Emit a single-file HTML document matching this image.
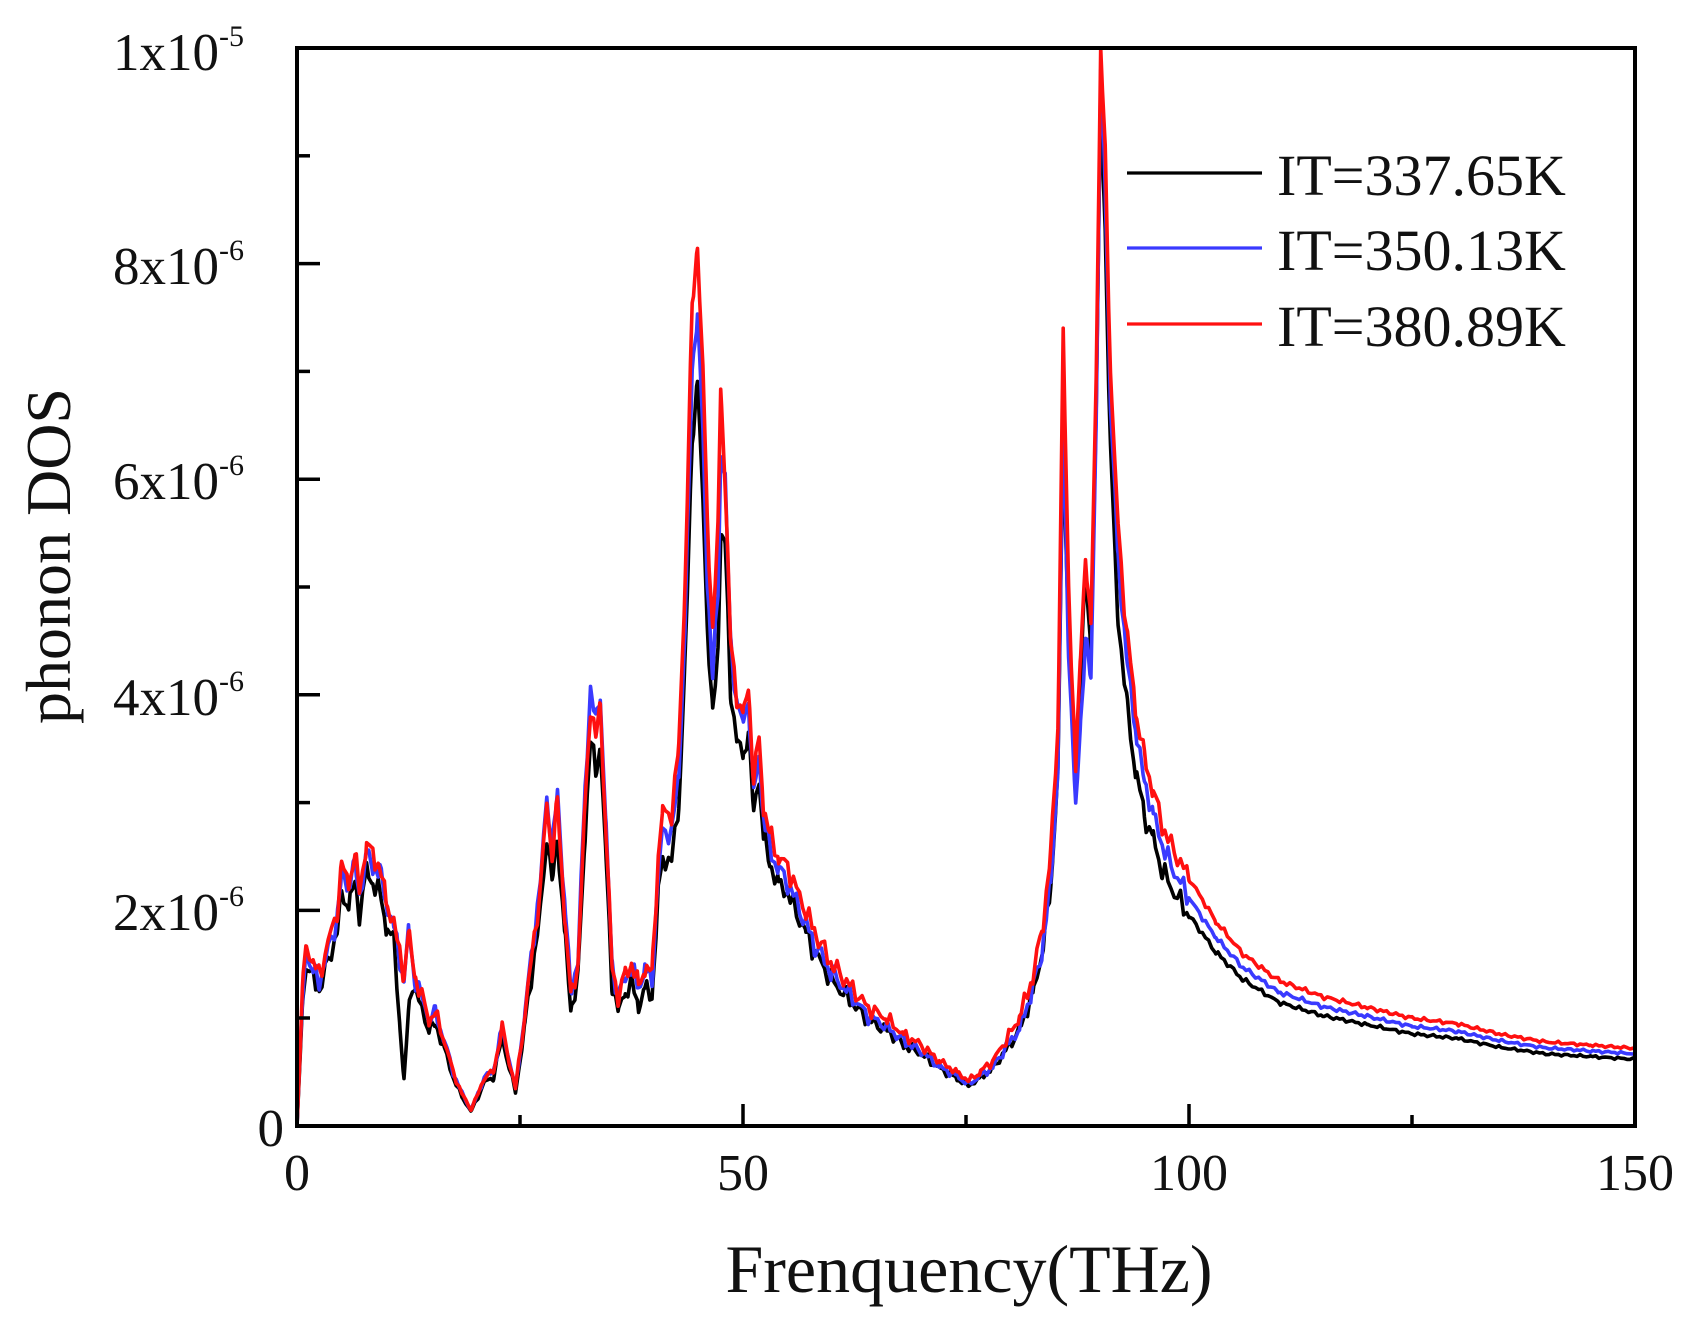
<!DOCTYPE html>
<html><head><meta charset="utf-8"><style>
html,body{margin:0;padding:0;background:#fff;}
svg{display:block;font-family:"Liberation Serif",serif;}
</style></head><body>
<svg id="s" width="1686" height="1341" viewBox="0 0 1686 1341" xmlns="http://www.w3.org/2000/svg">
<g id="curves" fill="none" stroke-width="3.6" stroke-linejoin="round"></g>
<rect x="297" y="48" width="1338" height="1078" fill="none" stroke="#000" stroke-width="4"/>
<g stroke="#000" stroke-width="3.5">
<line x1="743" y1="1126" x2="743" y2="1104"/><line x1="1189" y1="1126" x2="1189" y2="1104"/>
<line x1="520" y1="1126" x2="520" y2="1115"/><line x1="966" y1="1126" x2="966" y2="1115"/><line x1="1412" y1="1126" x2="1412" y2="1115"/>
<line x1="297" y1="910.4" x2="320" y2="910.4"/><line x1="297" y1="694.8" x2="320" y2="694.8"/><line x1="297" y1="479.2" x2="320" y2="479.2"/><line x1="297" y1="263.6" x2="320" y2="263.6"/>
<line x1="297" y1="1018" x2="310" y2="1018"/><line x1="297" y1="802.6" x2="310" y2="802.6"/><line x1="297" y1="587" x2="310" y2="587"/><line x1="297" y1="371.4" x2="310" y2="371.4"/><line x1="297" y1="155.8" x2="310" y2="155.8"/>
</g>
<g font-size="52" fill="#111" text-anchor="middle">
<text x="297" y="1190">0</text><text x="743" y="1190">50</text><text x="1189" y="1190">100</text><text x="1635" y="1190">150</text>
</g>
<g font-size="53" fill="#111" text-anchor="end">
<text x="284" y="1146">0</text>
<text x="244" y="930">2x10<tspan font-size="30" dy="-24">-6</tspan></text>
<text x="244" y="715">4x10<tspan font-size="30" dy="-24">-6</tspan></text>
<text x="244" y="499">6x10<tspan font-size="30" dy="-24">-6</tspan></text>
<text x="244" y="284">8x10<tspan font-size="30" dy="-24">-6</tspan></text>
<text x="244" y="70">1x10<tspan font-size="30" dy="-24">-5</tspan></text>
</g>
<text x="969" y="1292" font-size="68" text-anchor="middle" fill="#111">Frenquency(THz)</text>
<text transform="translate(70,556) rotate(-90)" font-size="64" text-anchor="middle" fill="#111">phonon DOS</text>
<g stroke-width="3.2">
<line x1="1127" y1="173" x2="1262" y2="173" stroke="#000"/>
<line x1="1127" y1="248" x2="1262" y2="248" stroke="#3a3aff"/>
<line x1="1127" y1="324" x2="1262" y2="324" stroke="#ff1010"/>
</g>
<g font-size="58" fill="#111">
<text x="1277" y="195">IT=337.65K</text>
<text x="1277" y="270">IT=350.13K</text>
<text x="1277" y="346">IT=380.89K</text>
</g>
</svg>
<script>
var R=[[0,0],[0.6,1.2],[1,1.7],[1.8,1.5],[2.5,1.4],[3.5,1.7],[4.5,2.0],[5,2.4],[5.8,2.3],[6.5,2.5],[7,2.2],[7.8,2.6],[8.5,2.5],[9.3,2.4],[10,2.1],[10.8,1.9],[11.5,1.6],[12,1.4],[12.5,1.8],[13.2,1.4],[14,1.2],[14.8,1.0],[15.5,1.05],[16.5,0.8],[17.5,0.5],[18.5,0.3],[19.5,0.15],[20.3,0.3],[21,0.45],[22,0.5],[23,0.9],[23.8,0.6],[24.5,0.35],[25.5,1.0],[26.5,1.7],[27.3,2.2],[28,3.0],[28.6,2.5],[29.2,3.0],[30,2.0],[30.7,1.2],[31.5,1.5],[32.3,3.0],[32.9,3.9],[33.5,3.6],[34,3.9],[34.6,2.8],[35.3,1.5],[36,1.2],[36.8,1.4],[37.5,1.5],[38.3,1.3],[39,1.5],[39.8,1.4],[40.5,2.5],[41,2.9],[42,2.9],[42.8,3.5],[43.5,5.0],[44.3,7.6],[44.9,8.2],[45.5,7.0],[46,5.6],[46.6,4.6],[47.2,5.5],[47.5,6.9],[48,6.0],[48.6,4.5],[49.3,4.0],[50,3.8],[50.6,4.1],[51.2,3.2],[51.8,3.6],[52.3,3.0],[53,2.7],[54,2.5],[55,2.4],[56,2.2],[57,2.0],[58,1.8],[60,1.5],[62,1.3],[64,1.1],[66,1.0],[68,0.85],[70,0.75],[72,0.6],[74,0.5],[75.3,0.42],[76.5,0.5],[78,0.6],[79.5,0.8],[81,1.0],[82.5,1.4],[83.5,1.8],[84.5,2.5],[85.3,3.7],[85.9,7.3],[86.5,5.0],[87.3,3.3],[87.8,4.3],[88.4,5.3],[89,4.6],[89.6,7.0],[90.1,10.0],[90.6,9.0],[91.2,7.0],[92,5.6],[93,4.6],[94,3.9],[95,3.4],[96,3.1],[97,2.8],[98,2.6],[100,2.3],[103,1.9],[106,1.6],[110,1.35],[115,1.2],[120,1.1],[125,1.0],[130,0.95],[135,0.85],[140,0.78],[145,0.75],[150,0.72]];
var FK=[[0,0.9],[11,0.9],[12,0.3],[13,0.9],[30,0.9],[33,0.92],[40,0.85],[43,0.85],[44.9,0.84],[46.6,0.82],[47.5,0.8],[48,0.9],[55,0.9],[86,0.88],[87.3,0.97],[90.1,0.95],[92,0.85],[100,0.85],[150,0.86]];
var FB=[[0,0.95],[33,1.04],[40,0.95],[44.9,0.92],[47.5,0.9],[48,1.0],[52,0.95],[86,0.9],[88.4,0.85],[90.1,0.98],[92,0.95],[100,0.92],[150,0.93]];
function ip(a,f){for(var i=1;i<a.length;i++){if(f<=a[i][0]){var t=(f-a[i-1][0])/(a[i][0]-a[i-1][0]);return a[i-1][1]+t*(a[i][1]-a[i-1][1]);}}return a[a.length-1][1];}
function path(fac,seed){var d="";var pts=[];R.forEach(function(p){pts.push(p[0]);});for(var f=0;f<=150;f+=0.35)pts.push(f);pts.sort(function(a,b){return a-b;});
for(var i=0;i<pts.length;i++){var f=pts[i];var v=ip(R,f)*(fac?ip(fac,f):1);var n=Math.sin(f*7.3+seed)*Math.sin(f*3.1+seed*2);v+=n*(f<100?0.08:0.02)*Math.min(v,1.5);if(v<0)v=0;
var x=297+f*8.92,y=1126-v*107.8;if(y<48)y=48;d+=(i?"L":"M")+x.toFixed(1)+" "+y.toFixed(1);}return d;}
var g=document.getElementById("curves");
[[FK,"#000",1],[FB,"#3a3aff",2],[null,"#ff1010",3]].forEach(function(c){var p=document.createElementNS("http://www.w3.org/2000/svg","path");p.setAttribute("d",path(c[0],c[2]));p.setAttribute("stroke",c[1]);g.appendChild(p);});
</script>
</body></html>
